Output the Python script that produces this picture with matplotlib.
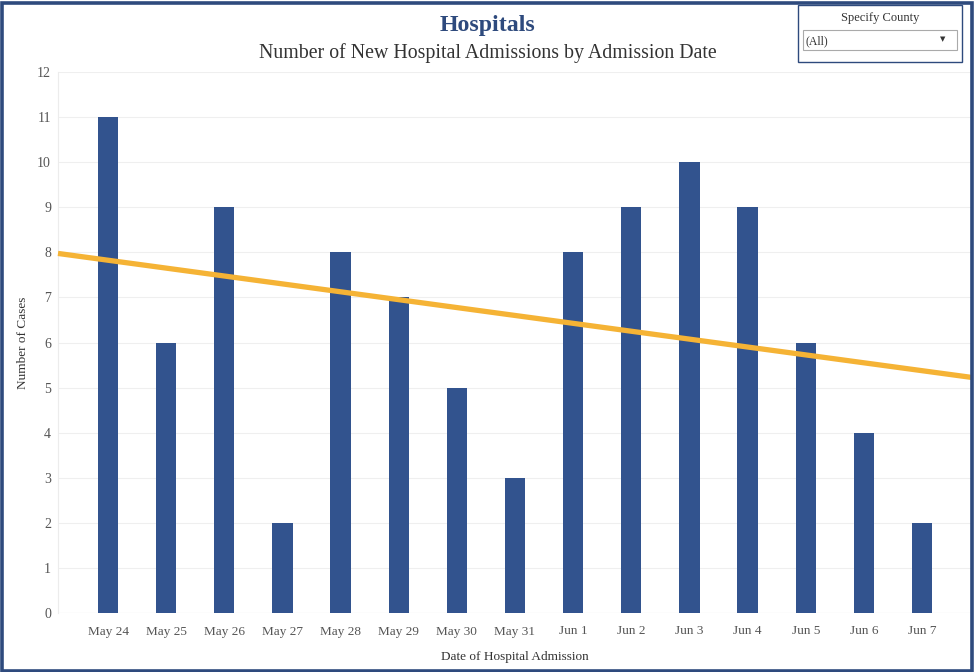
import numpy as np
import matplotlib.pyplot as plt
from matplotlib.patches import Rectangle

dates = ["May 24", "May 25", "May 26", "May 27", "May 28", "May 29", "May 30", "May 31",
         "Jun 1", "Jun 2", "Jun 3", "Jun 4", "Jun 5", "Jun 6", "Jun 7"]
admissions = [11, 6, 9, 2, 8, 7, 5, 3, 8, 9, 10, 9, 6, 4, 2]
y_ticks = list(range(0, 13))

BAR = "#32538e"
TREND = "#f5b335"
NAVY = "#2e4a7d"
SERIF = ["Liberation Serif", "DejaVu Serif"]

plt.rcParams.update({"font.family": SERIF})

W, H = 975, 672
fig = plt.figure(figsize=(W / 100, H / 100), dpi=100, facecolor="white")
# axes in pixel terms: left 58, right 972, top 72, bottom 613
ax = fig.add_axes([58 / W, 1 - 613 / H, (972 - 58) / W, (613 - 72) / H])

x = np.arange(len(dates))
ax.bar(x, admissions, width=0.35, color=BAR, zorder=2)

# least-squares trend line across the whole pane
slope, icpt = np.polyfit(x, admissions, 1)
xlim = (-0.86, 14.86)
xt = np.array(xlim)
ax.plot(xt, slope * xt + icpt, color=TREND, lw=3.8, solid_capstyle="butt", zorder=3, clip_on=False)

ax.set_xlim(*xlim)
ax.set_ylim(0, 12)
ax.set_yticks(y_ticks)
ax.set_xticks(x)
ax.set_xticklabels(dates)
ax.tick_params(axis="both", length=0, labelsize=9.5, labelcolor="#555555")
ax.tick_params(axis="x", pad=9)
ax.tick_params(axis="y", pad=5, labelsize=10)
ax.grid(axis="y", color="#efefef", lw=0.8, zorder=0)
for side in ["top", "right", "bottom"]:
    ax.spines[side].set_visible(False)
ax.spines["left"].set_color("#ececec")
ax.axhline(0, color="#ececec", lw=0.8, zorder=1)

ax.set_xlabel("Date of Hospital Admission", fontsize=9.5, color="#333333", labelpad=10)
ax.set_ylabel("Number of Cases", fontsize=9.5, color="#333333", labelpad=6)

fig.text(488 / W, 1 - 25 / H, "Hospitals", ha="center", va="center", fontsize=17.2,
         fontweight="bold", color=NAVY)
fig.text(488 / W, 1 - 53 / H, "Number of New Hospital Admissions by Admission Date",
         ha="center", va="center", fontsize=14.3, color="#333333")

# county filter widget
fig.patches.append(Rectangle((798 / W, 1 - 62 / H), 164 / W, 57 / H, transform=fig.transFigure,
                             fill=False, ec=NAVY, lw=1.0))
fig.patches.append(Rectangle((803 / W, 1 - 50 / H), 154 / W, 20 / H, transform=fig.transFigure,
                             fill=False, ec="#aaaaaa", lw=0.8))
fig.text(880 / W, 1 - 18 / H, "Specify County", ha="center", va="center", fontsize=9, color="#333333")
fig.text(806 / W, 1 - 41 / H, "(All)", ha="left", va="center", fontsize=8.5, color="#333333")
fig.text(943 / W, 1 - 39 / H, "\u25bc", ha="center", va="center", fontsize=5, color="#333333",
         family="DejaVu Sans")

# outer frame
fig.patches.append(Rectangle((1.5 / W, 1.5 / H), (W - 4.5) / W, (H - 4.5) / H, transform=fig.transFigure,
                             fill=False, ec=NAVY, lw=2.6, zorder=10))

fig.savefig("out.png", dpi=100, facecolor="white")
